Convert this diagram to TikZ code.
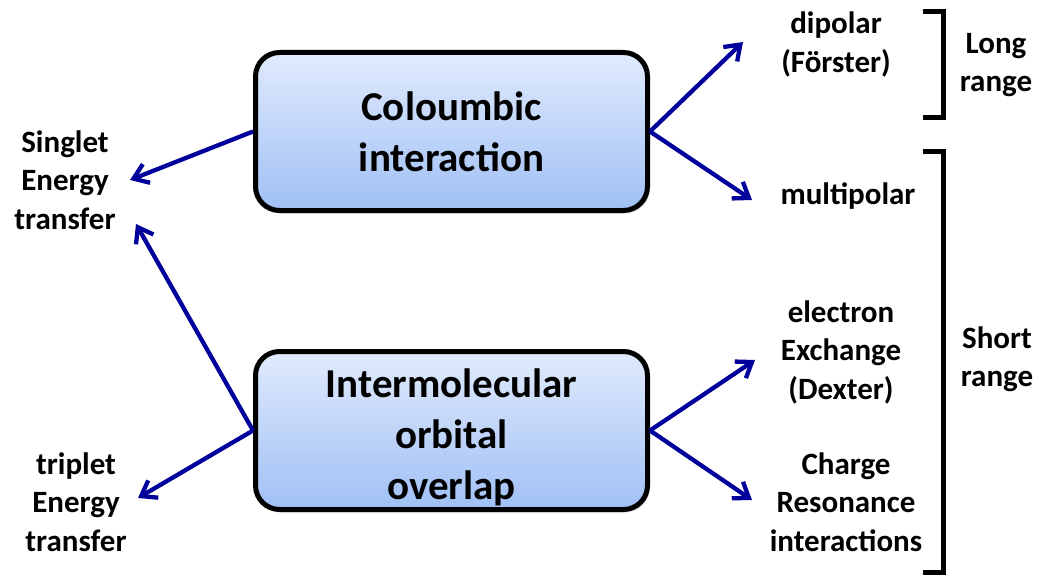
\documentclass[tikz,border=0pt]{standalone}
\usepackage{fontspec}
\setmainfont{Carlito}
\usetikzlibrary{arrows.meta,shadows}
\definecolor{arrowblue}{RGB}{0,0,155}
\definecolor{boxtop}{RGB}{224,234,252}
\definecolor{boxbot}{RGB}{160,192,245}
\begin{document}
\begin{tikzpicture}[x=1pt,y=-1pt,
  mainbox/.style={draw=black,line width=5pt,rounded corners=24pt,
    top color=boxtop,bottom color=boxbot,minimum width=392pt,minimum height=158pt,
    inner sep=0pt,align=center,font=\fontsize{41}{51}\selectfont\bfseries,
    drop shadow={opacity=0.25,shadow xshift=2pt,shadow yshift=-3pt}},
  boxtext/.style={align=center,inner sep=0pt,font=\fontsize{41}{51}\selectfont\bfseries},
  lbl/.style={align=center,inner sep=0pt,font=\fontsize{31}{38.5}\selectfont\bfseries},
  arr/.style={draw=arrowblue,line width=4.3pt,-{Straight Barb[length=14pt,width=20pt]}},
  brk/.style={draw=black,line width=5pt}]
\useasboundingbox (0,0) rectangle (1039,575);
\node[mainbox] (c1) at (451.5,131.5) {Coloumbic\\interaction};
\node[mainbox] (c2) at (451.5,430.5) {};
\node[boxtext] (c2t) at (451.5,437) {Intermolecular\\orbital\\overlap};
\node[lbl] (singlet) at (65,180) {Singlet\\Energy\\transfer};
\node[lbl] (triplet) at (76,502) {triplet\\Energy\\transfer};
\node[lbl] (dipolar) at (836,44.5) {dipolar\\(Förster)};
\node[lbl] (multi) at (848,196) {multipolar};
\node[lbl] (dexter) at (841,352) {electron\\Exchange\\(Dexter)};
\node[lbl] (charge) at (846,502) {Charge\\Resonance\\interactions};
\node[lbl] (long) at (996,65) {Long\\range};
\node[lbl] (short) at (997,359) {Short\\range};
\coordinate (tS1) at (130,180);
\coordinate (tS2) at (136,224);
\coordinate (tT) at (138,498);
\coordinate (tD) at (743,42);
\coordinate (tM) at (752,200);
\coordinate (tE) at (755,360);
\coordinate (tC) at (752,500);
\draw[arr] (c1.west) -- (tS1);
\draw[arr] (c2.west) -- (tS2);
\draw[arr] (c2.west) -- (tT);
\draw[arr] (c1.east) -- (tD);
\draw[arr] (c1.east) -- (tM);
\draw[arr] (c2.east) -- (tE);
\draw[arr] (c2.east) -- (tC);
\draw[brk] (923,12) -- (943,12) -- (943,118) -- (923,118);
\draw[brk] (923,152) -- (943,152) -- (943,572) -- (923,572);
\end{tikzpicture}
\end{document}
